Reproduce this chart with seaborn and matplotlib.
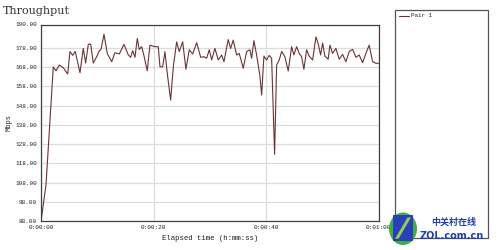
import matplotlib
matplotlib.use("Agg")
import matplotlib.pyplot as plt
from matplotlib.patches import Rectangle, Polygon, Ellipse
import seaborn as sns
import pandas as pd

# ---- data ----
elapsed_s = [0.00, 0.84, 2.13, 2.61, 3.20, 3.91, 4.69, 5.10, 5.58, 6.04,
             6.88, 7.47, 7.89, 8.36, 8.78, 9.24, 9.85, 10.31, 10.61, 11.15,
             11.73, 12.52, 13.10, 13.87, 14.70, 15.47, 15.89, 16.25, 16.66, 17.07,
             17.42, 17.85, 18.26, 18.84, 19.32, 20.21, 20.80, 21.10, 21.58, 21.99,
             22.40, 23.00, 23.47, 24.07, 24.53, 25.14, 25.72, 26.31, 26.92, 27.63,
             28.34, 28.92, 29.40, 29.87, 30.29, 30.88, 31.47, 32.07, 32.48, 33.24,
             33.67, 34.13, 34.74, 35.20, 35.91, 36.52, 37.10, 37.40, 37.81, 38.29,
             38.88, 39.18, 39.59, 40.07, 40.53, 40.96, 41.49, 41.85, 42.31, 42.74,
             43.32, 43.91, 44.52, 44.92, 45.40, 45.87, 46.29, 46.70, 47.18, 47.64,
             48.25, 48.84, 49.24, 49.67, 50.03, 50.43, 51.02, 51.32, 51.80, 52.39,
             52.98, 53.58, 54.17, 54.76, 55.36, 55.95, 56.53, 57.14, 57.72, 58.31,
             58.92, 59.50, 59.98]
pair1_mbps = [89.0, 107.0, 168.0, 166.0, 169.0, 167.6, 164.3, 176.0, 174.0, 176.0,
              165.0, 177.6, 170.0, 179.7, 179.9, 170.0, 173.3, 176.4, 177.0, 184.9,
              175.0, 170.7, 175.4, 174.7, 179.7, 174.2, 173.0, 176.4, 173.0, 182.8,
              177.0, 178.5, 173.8, 166.0, 179.3, 178.5, 178.5, 168.1, 168.0, 175.9,
              164.7, 150.8, 168.0, 181.0, 176.0, 181.0, 166.8, 176.9, 174.7, 180.6,
              173.0, 173.3, 172.5, 176.9, 171.7, 177.6, 171.6, 174.2, 170.7, 182.2,
              177.6, 181.9, 174.2, 175.0, 167.3, 176.0, 176.9, 172.5, 181.6, 174.2,
              163.3, 153.4, 173.6, 171.6, 174.0, 172.5, 122.7, 169.0, 171.6, 176.0,
              173.3, 165.9, 178.5, 174.2, 178.5, 175.0, 173.3, 166.8, 176.9, 173.6,
              171.6, 183.6, 180.1, 174.2, 180.4, 173.6, 172.0, 179.3, 175.0, 177.6,
              172.0, 174.5, 170.7, 176.0, 177.1, 173.0, 174.2, 170.2, 175.0, 179.3,
              170.7, 169.9, 169.9]
series_name = "Pair 1"
y_ticks = [88, 98, 108, 118, 128, 138, 148, 158, 168, 178, 190]
x_ticks = [0, 20, 40, 60]
x_tick_labels = ["0:00:00", "0:00:20", "0:00:40", "0:01:00"]

df = pd.DataFrame({"t": elapsed_s, "v": pair1_mbps, "series": series_name})

sns.set_style("white")
plt.rcParams["font.family"] = ["Liberation Mono", "DejaVu Sans Mono"]

fig = plt.figure(figsize=(5, 2.5), dpi=100)
ax = fig.add_axes([0.0826, 0.115, 0.6748, 0.787])

line_color = "#6a3434"
sns.lineplot(data=df, x="t", y="v", ax=ax, color=line_color, linewidth=0.8,
             legend=False, estimator=None, sort=False)

ax.set_xlim(0, 60)
ax.set_ylim(88, 190)
ax.set_yticks(y_ticks)
ax.set_yticklabels([f"{v:.2f}" for v in y_ticks])
ax.set_xticks(x_ticks)
ax.set_xticklabels(x_tick_labels)
ax.tick_params(axis="both", labelsize=4.3, length=1.5, width=0.6, pad=1.5,
               colors="#222222")
ax.grid(True, color="#dcdcdc", linewidth=0.9)
ax.set_axisbelow(True)
for s in ax.spines.values():
    s.set_color("#404040")
    s.set_linewidth(0.9)

ax.set_xlabel("Elapsed time (h:mm:ss)", fontsize=5.3, labelpad=3, color="#222222")
ax.set_ylabel("Mbps", fontsize=5.0, labelpad=2, color="#222222")

fig.text(0.006, 0.955, "Throughput", fontsize=8, family="DejaVu Serif",
         color="#333333", va="center", ha="left")

# legend box
fig.patches.append(Rectangle((0.79, 0.05), 0.185, 0.91, transform=fig.transFigure,
                             fill=False, edgecolor="#555555", linewidth=0.9))
fig.add_artist(plt.Line2D([0.797, 0.817], [0.937, 0.937], transform=fig.transFigure,
                          color=line_color, linewidth=0.8))
fig.text(0.822, 0.937, series_name, fontsize=4.2, va="center", ha="left",
         color="#222222")

# watermark
fig.patches.append(Ellipse((0.806, 0.085), 0.056, 0.13, transform=fig.transFigure,
                           facecolor="#3cb043", edgecolor="none"))
fig.patches.append(Polygon([(0.786, 0.035), (0.786, 0.14), (0.826, 0.14),
                            (0.826, 0.035)], closed=True, transform=fig.transFigure,
                           facecolor="#2a3fb8", edgecolor="none"))
fig.patches.append(Polygon([(0.790, 0.045), (0.815, 0.13), (0.822, 0.13),
                            (0.797, 0.045)], closed=True, transform=fig.transFigure,
                           facecolor="#8fd14f", edgecolor="none"))
fig.text(0.862, 0.11, "中关村在线", fontsize=6.5, color="#1f3fae", weight="bold",
         family=["Noto Sans CJK SC", "DejaVu Sans"], va="center", ha="left")
fig.text(0.84, 0.055, "ZOL.com.cn", fontsize=7, color="#1f3fae", weight="bold",
         family="DejaVu Sans", va="center", ha="left")

fig.savefig("out.png", dpi=100)
